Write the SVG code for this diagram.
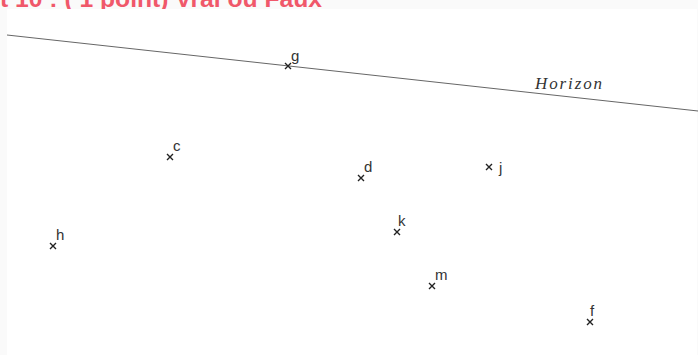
<svg xmlns="http://www.w3.org/2000/svg" width="698" height="355" viewBox="0 0 698 355">
<style>
.lbl{font-family:"Liberation Sans",Arial,sans-serif;font-size:15px;fill:#333}
.mk{stroke:#222;stroke-width:1.4;fill:none}
.title{font-family:"Liberation Sans",Arial,sans-serif;font-weight:bold;font-size:23px;fill:#f0586a}
</style>
<defs>
<g id="x"><path class="mk" d="M-3,-3L3,3M-3,3L3,-3"/></g>
</defs>
<rect width="698" height="355" fill="#fafafa"/>
<text class="title" x="0" y="7" textLength="322" lengthAdjust="spacingAndGlyphs">t 10 : ( 1 point) Vrai ou Faux</text>
<rect x="7" y="9" width="690" height="346" fill="#ffffff"/>
<g id="connectors">
<line x1="7" y1="35" x2="698" y2="111" stroke="#666" stroke-width="1"/>
</g>
<g id="horizon"><text x="535" y="89" font-family="'Liberation Serif','DejaVu Serif',serif" font-style="italic" font-size="17" fill="#333" textLength="67" lengthAdjust="spacing">Horizon</text></g>
<g id="g"><use href="#x" x="288" y="66"/><text class="lbl" x="291" y="61">g</text></g>
<g id="c"><use href="#x" x="170" y="157"/><text class="lbl" x="173" y="151">c</text></g>
<g id="d"><use href="#x" x="361" y="178"/><text class="lbl" x="364" y="172">d</text></g>
<g id="j"><use href="#x" x="489" y="167"/><text class="lbl" x="499" y="173">j</text></g>
<g id="h"><use href="#x" x="53" y="246"/><text class="lbl" x="56" y="240">h</text></g>
<g id="k"><use href="#x" x="397" y="232"/><text class="lbl" x="398" y="226">k</text></g>
<g id="m"><use href="#x" x="432" y="286"/><text class="lbl" x="435" y="280">m</text></g>
<g id="f"><use href="#x" x="590" y="322"/><text class="lbl" x="590" y="316">f</text></g>
</svg>
